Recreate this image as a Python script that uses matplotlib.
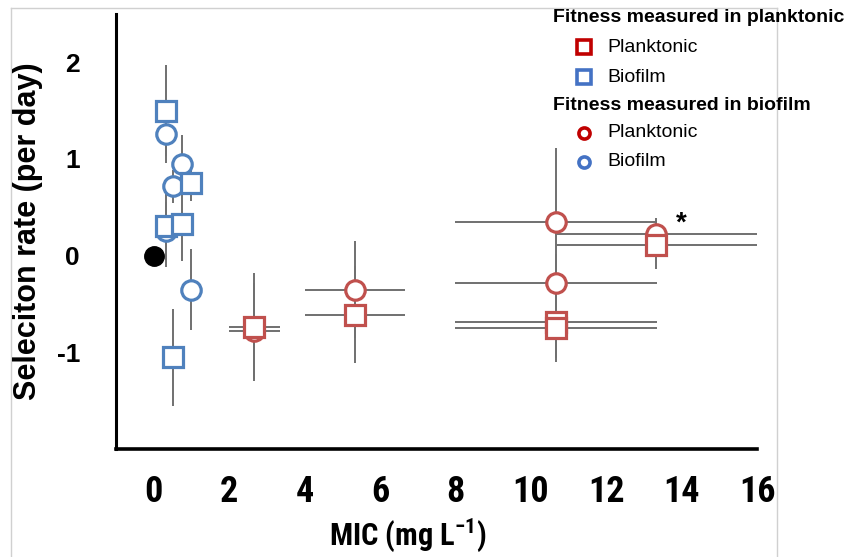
import matplotlib
matplotlib.use("Agg")
import matplotlib.pyplot as plt
from matplotlib.lines import Line2D
from matplotlib import font_manager as fm

_names = set(f.name for f in fm.fontManager.ttflist)
NARROW = None
for cand in ['Arial Narrow', 'Liberation Sans Narrow', 'Roboto Condensed', 'Archivo Narrow',
             'PT Sans Narrow', 'Open Sans Condensed', 'Encode Sans Condensed']:
    if cand in _names:
        NARROW = cand
        break
if NARROW is None:
    NARROW = 'DejaVu Sans'
    NSTRETCH = 'condensed'
else:
    NSTRETCH = 'normal'

plt.rcParams['mathtext.fontset'] = 'custom'
plt.rcParams['mathtext.rm'] = NARROW + ':bold'
plt.rcParams['mathtext.bf'] = NARROW + ':bold'
plt.rcParams['mathtext.default'] = 'bf'

# ---- data ----
# Fitness measured in planktonic (squares)
plank_sq_x = [2.67, 5.33, 10.67, 10.67, 13.33]
plank_sq_y = [-0.74, -0.61, -0.69, -0.75, 0.11]
plank_sq_yerr = [0.56, 0.5, 0.37, 0.35, 0.25]
plank_sq_xerr = [0.67, 1.33, 2.67, 2.67, 2.67]

bio_sq_x = [0.33, 1.0, 0.33, 0.75, 0.5]
bio_sq_y = [1.50, 0.75, 0.31, 0.33, -1.05]
bio_sq_yerr = [0.47, 0.18, 0.43, 0.38, 0.5]

# Fitness measured in biofilm (circles)
plank_ci_x = [2.67, 5.33, 10.67, 10.67, 13.33]
plank_ci_y = [-0.78, -0.35, 0.35, -0.28, 0.22]
plank_ci_yerr = [0.5, 0.5, 0.76, 0.3, 0.17]
plank_ci_xerr = [0.67, 1.33, 2.67, 2.67, 2.67]

bio_ci_x = [0.33, 0.75, 0.5, 0.33, 1.0]
bio_ci_y = [1.26, 0.95, 0.72, 0.26, -0.35]
bio_ci_yerr = [0.3, 0.3, 0.17, 0.3, 0.42]

ref_x = [0]
ref_y = [0]

x_ticks = [0, 2, 4, 6, 8, 10, 12, 14, 16]
y_ticks = [-1, 0, 1, 2]

RED = '#C0504D'
BLUE = '#4F81BD'
ERR = '#707070'

W, H = 848, 557
fig = plt.figure(figsize=(W / 100, H / 100), dpi=100)
ax = fig.add_axes([116 / W, 1 - 449 / H, (757 - 116) / W, (449 - 14) / H])

ekw = dict(fmt='none', ecolor=ERR, elinewidth=1.4, capsize=0, zorder=1)
ax.errorbar(plank_ci_x, plank_ci_y, yerr=plank_ci_yerr, xerr=plank_ci_xerr, **ekw)
ax.errorbar(bio_ci_x, bio_ci_y, yerr=bio_ci_yerr, **ekw)
ax.errorbar(plank_sq_x, plank_sq_y, yerr=plank_sq_yerr, xerr=plank_sq_xerr, **ekw)
ax.errorbar(bio_sq_x, bio_sq_y, yerr=bio_sq_yerr, **ekw)

mkw = dict(linestyle='none', markersize=14, markeredgewidth=2.3, markerfacecolor='white', zorder=3)
ax.plot(plank_ci_x, plank_ci_y, marker='o', markeredgecolor=RED, **mkw)
ax.plot(bio_ci_x, bio_ci_y, marker='o', markeredgecolor=BLUE, **mkw)
ax.plot(plank_sq_x, plank_sq_y, marker='s', markeredgecolor=RED, **mkw)
ax.plot(bio_sq_x, bio_sq_y, marker='s', markeredgecolor=BLUE, **mkw)
ax.plot(ref_x, ref_y, marker='o', linestyle='none', markersize=14, color='black', zorder=4)

ax.text(14.0, 0.33, '*', fontsize=20, fontweight='bold', ha='center', va='center',
        family=['Liberation Sans', 'DejaVu Sans'])

ax.set_xlim(-1, 16)
ax.set_ylim(-2, 2.5)
ax.set_xticks(x_ticks)
ax.set_yticks(y_ticks)
ax.set_xticklabels([str(t) for t in x_ticks], fontsize=26, fontweight='bold',
                   family=[NARROW, 'DejaVu Sans'], fontstretch=NSTRETCH)
ax.set_yticklabels([str(t) for t in y_ticks], fontsize=19, fontweight='bold',
                   family=['Liberation Sans', 'DejaVu Sans'])
ax.tick_params(axis='x', length=0, pad=18)
ax.tick_params(axis='y', length=0, pad=26)
for s in ['top', 'right']:
    ax.spines[s].set_visible(False)
ax.spines['left'].set_linewidth(2.2)
ax.spines['bottom'].set_linewidth(2.6)

fig.text(28 / W, 1 - 231 / H, 'Seleciton rate (per day)', rotation=90, ha='center', va='center',
         fontsize=22, fontweight='bold', family=['Liberation Sans', 'DejaVu Sans'])
fig.text(408 / W, 1 - 545 / H, r'MIC (mg L$^{-1}$)', ha='center', va='baseline',
         fontsize=22, fontweight='bold', family=[NARROW, 'DejaVu Sans'], fontstretch=NSTRETCH)

# outer frame
fc = '#d0d0d0'
fig.add_artist(Line2D([11 / W, 11 / W], [0, 1 - 8 / H], transform=fig.transFigure, color=fc, lw=1))
fig.add_artist(Line2D([777 / W, 777 / W], [0, 1 - 8 / H], transform=fig.transFigure, color=fc, lw=1))
fig.add_artist(Line2D([11 / W, 777 / W], [1 - 8 / H, 1 - 8 / H], transform=fig.transFigure, color=fc, lw=1))

# legend
LF = ['Liberation Sans', 'DejaVu Sans']
LRED = '#C00000'
LBLUE = '#4472C4'
fig.text(553 / W, 1 - 18 / H, 'Fitness measured in planktonic', fontsize=14, fontweight='bold',
         va='center', ha='left', family=LF)
fig.text(553 / W, 1 - 105 / H, 'Fitness measured in biofilm', fontsize=14, fontweight='bold',
         va='center', ha='left', family=LF)
entries = [(47, 's', LRED, 'Planktonic'), (77, 's', LBLUE, 'Biofilm'),
           (133, 'o', LRED, 'Planktonic'), (162, 'o', LBLUE, 'Biofilm')]
for yy, mk, col, lab in entries:
    ms = 10 if mk == 's' else 8
    fig.add_artist(Line2D([584 / W], [1 - yy / H], transform=fig.transFigure, marker=mk,
                          markersize=ms, markeredgewidth=2.6, markeredgecolor=col,
                          markerfacecolor='white', linestyle='none'))
    fig.text(607 / W, 1 - yy / H, lab, fontsize=14, va='center', ha='left', family=LF)

fig.savefig('out.png', dpi=100)
